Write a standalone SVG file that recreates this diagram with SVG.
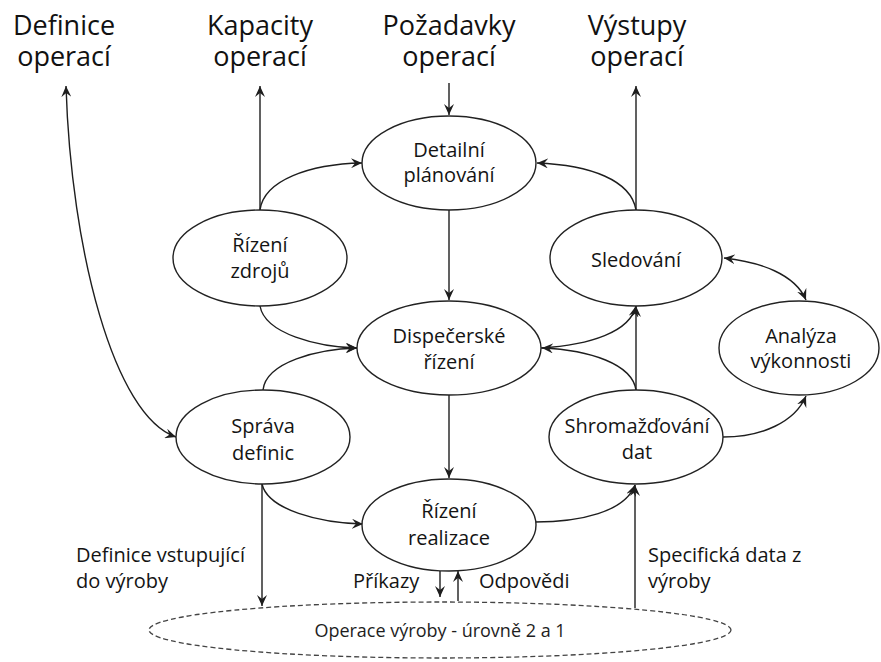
<svg xmlns="http://www.w3.org/2000/svg" width="881" height="662" viewBox="0 0 881 662">
  <style>
    .node ellipse { fill: #fff; stroke: #222; stroke-width: 1.4; }
    .node text, .note { font-family: "Open Sans", "Noto Sans", sans-serif; font-size: 20px; fill: #141414; text-anchor: middle; }
    .note { text-anchor: start; }
    .head { font-family: "Open Sans", "Noto Sans", sans-serif; font-size: 27px; font-weight: 500; fill: #111; text-anchor: middle; }
    .conn path, .conn line { fill: none; stroke: #1e1e1e; stroke-width: 1.4; }
    .arr { marker-end: url(#ah); }
    .both { marker-start: url(#ah); marker-end: url(#ah); }
    .ext ellipse { fill: #fff; stroke: #444; stroke-width: 1.3; stroke-dasharray: 5 3; }
    .ext text { font-family: "Open Sans", "Noto Sans", sans-serif; font-size: 18px; fill: #1e1e1e; text-anchor: middle; }
  </style>
  <defs>
    <marker id="ah" markerUnits="userSpaceOnUse" markerWidth="12" markerHeight="10" refX="11" refY="5" orient="auto-start-reverse" viewBox="0 0 12 10">
      <path d="M0,0 L11,5 L0,10 L4,5 z" fill="#1e1e1e"/>
    </marker>
  </defs>
  <rect width="881" height="662" fill="#fff"/>

  <!-- headings -->
  <g id="h-definice">
    <text class="head" x="64" y="35">Definice<tspan x="64" dy="31">operací</tspan></text>
  </g>
  <g id="h-kapacity">
    <text class="head" x="260" y="35">Kapacity<tspan x="260" dy="31">operací</tspan></text>
  </g>
  <g id="h-pozadavky">
    <text class="head" x="449" y="35">Požadavky<tspan x="449" dy="31">operací</tspan></text>
  </g>
  <g id="h-vystupy">
    <text class="head" x="637" y="35">Výstupy<tspan x="637" dy="31">operací</tspan></text>
  </g>

  <!-- connectors -->
  <g id="connectors" class="conn">
    <path class="both" d="M66,86 C71,250 114,416 176,437"/>
    <line class="arr" x1="260" y1="210" x2="260" y2="86"/>
    <path class="arr" d="M260,210 C264,180 310,164 362,163"/>
    <line class="arr" x1="449" y1="83" x2="449" y2="115"/>
    <line class="arr" x1="636" y1="210" x2="636" y2="86"/>
    <path class="arr" d="M636,210 C631,180 590,165 537,163"/>
    <line class="arr" x1="449" y1="210" x2="449" y2="300"/>
    <path class="arr" d="M260,306 C265,334 318,347 357,348"/>
    <path class="arr" d="M263,390 C266,362 318,349 357,348"/>
    <line class="arr" x1="449" y1="395" x2="449" y2="478"/>
    <path class="arr" d="M541,348 C590,345 630,332 636,306"/>
    <path class="arr" d="M636,390 C632,364 590,350 542,348"/>
    <line class="arr" x1="636" y1="390" x2="636" y2="306"/>
    <path class="both" d="M724,258 C760,262 795,274 806,300"/>
    <path class="arr" d="M723,437 C762,437 795,422 806,396"/>
    <path class="arr" d="M262,484 C268,510 320,523 363,524"/>
    <line class="arr" x1="262" y1="484" x2="262" y2="606"/>
    <path class="arr" d="M535,522 C580,522 625,512 635,485"/>
    <line class="arr" x1="635" y1="608" x2="635" y2="485"/>
    <line class="arr" x1="440" y1="571" x2="440" y2="597"/>
    <line class="arr" x1="458" y1="601" x2="458" y2="571"/>
  </g>

  <!-- nodes -->
  <g id="n-detailni" class="node">
    <ellipse cx="449" cy="163" rx="87" ry="47"/>
    <text x="449" y="157">Detailní</text>
    <text x="449" y="182">plánování</text>
  </g>
  <g id="n-zdroje" class="node">
    <ellipse cx="260" cy="258" rx="87" ry="48"/>
    <text x="260" y="252">Řízení</text>
    <text x="260" y="278">zdrojů</text>
  </g>
  <g id="n-sledovani" class="node">
    <ellipse cx="636" cy="258" rx="86" ry="48"/>
    <text x="636" y="267">Sledování</text>
  </g>
  <g id="n-dispecerske" class="node">
    <ellipse cx="449" cy="348" rx="92" ry="47"/>
    <text x="449" y="343">Dispečerské</text>
    <text x="449" y="369">řízení</text>
  </g>
  <g id="n-analyza" class="node">
    <ellipse cx="799" cy="348" rx="80" ry="47"/>
    <text x="801" y="343">Analýza</text>
    <text x="801" y="368">výkonnosti</text>
  </g>
  <g id="n-sprava" class="node">
    <ellipse cx="263" cy="437" rx="87" ry="47"/>
    <text x="263" y="433">Správa</text>
    <text x="263" y="460">definic</text>
  </g>
  <g id="n-shromazdovani" class="node">
    <ellipse cx="636" cy="437" rx="87" ry="47"/>
    <text x="637" y="433">Shromažďování</text>
    <text x="637" y="459">dat</text>
  </g>
  <g id="n-realizace" class="node">
    <ellipse cx="449" cy="525" rx="87" ry="46"/>
    <text x="449" y="518">Řízení</text>
    <text x="449" y="545">realizace</text>
  </g>

  <!-- production level -->
  <g id="n-vyroba" class="ext">
    <ellipse cx="440" cy="630" rx="291" ry="28"/>
    <text x="440" y="637">Operace výroby - úrovně 2 a 1</text>
  </g>

  <!-- flow labels -->
  <g id="labels">
    <text class="note" x="76" y="562">Definice vstupující</text>
    <text class="note" x="76" y="588">do výroby</text>
    <text class="note" x="648" y="562">Specifická data z</text>
    <text class="note" x="648" y="588">výroby</text>
    <text class="note" x="353" y="588">Příkazy</text>
    <text class="note" x="479" y="588">Odpovědi</text>
  </g>
</svg>
